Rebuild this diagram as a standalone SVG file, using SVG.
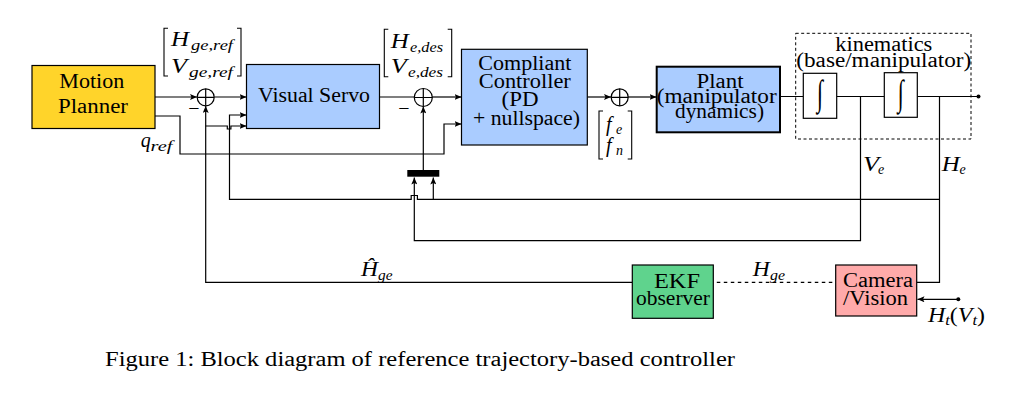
<svg xmlns="http://www.w3.org/2000/svg" width="1015" height="400" viewBox="0 0 1015 400">
<style>
  .box{stroke:#000;stroke-width:1.2}
  .t{font-family:"Liberation Serif","DejaVu Serif",serif;font-size:20px;fill:#000}
  .m{font-family:"Liberation Serif","DejaVu Serif",serif;font-size:20px;font-style:italic;fill:#000}
  .s{font-family:"Liberation Serif","DejaVu Serif",serif;font-size:14px;font-style:italic;fill:#000}
  .c{text-anchor:middle}
  .w{fill:none;stroke:#000;stroke-width:1.2}
  .br{fill:none;stroke:#000;stroke-width:1.1}
</style>
<defs>
  <marker id="a" markerUnits="userSpaceOnUse" markerWidth="8" markerHeight="6" refX="7" refY="3" orient="auto">
    <path d="M0,0 L7,3 L0,6 L1.5,3 z" fill="#000"/>
  </marker>
</defs>
<rect width="1015" height="400" fill="#fff"/>

<g id="connectors">
  <path class="w" d="M155 97 H197" marker-end="url(#a)"/>
  <path class="w" d="M214.5 97 H246.5" marker-end="url(#a)"/>
  <path class="w" d="M379.5 97 H414.5"/>
  <path class="w" d="M432.3 97 H461.5" marker-end="url(#a)"/>
  <path class="w" d="M587.3 97 H611" marker-end="url(#a)"/>
  <path class="w" d="M628.2 97 H656.5" marker-end="url(#a)"/>
  <path class="w" d="M780 96.5 H803.3 M836.7 96.5 H884.3 M917.3 96.5 H978"/>
  <circle cx="978.5" cy="96.5" r="2" fill="#000"/>
  <path class="w" d="M155 116 H180 V154 H444 V124 H461.5" marker-end="url(#a)"/>
  <path class="w" d="M632.3 282.3 H205.7 V106" marker-end="url(#a)"/>
  <path class="w" d="M205.7 126 H227.3 V129 H230.9 V126 H246.5" marker-end="url(#a)"/>
  <path class="w" d="M939.5 96.5 V282.3 H916.7"/>
  <path class="w" d="M939.5 199.3 H417.4 V195.5 H411.2 V199.3 H229.5 V115 H246.5" marker-end="url(#a)"/>
  <path class="w" d="M433.3 199.3 V177.5" marker-end="url(#a)"/>
  <path class="w" d="M860.5 96.5 V240.7 H414.3 V177.5" marker-end="url(#a)"/>
  <path class="w" d="M423.3 170 V106.5" marker-end="url(#a)"/>
  <path class="w" d="M713.3 282.3 H835.7" stroke-dasharray="3.5 3.5" stroke-dashoffset="-3.5"/>
  <circle cx="958.3" cy="299.3" r="2" fill="#000"/>
  <path class="w" d="M958.3 299.3 H917.5" marker-end="url(#a)"/>
</g>

<g id="motion_planner">
  <rect class="box" x="32" y="65.5" width="123" height="63" fill="#FFD42A"/>
  <text class="t c" x="91.8" y="88.3" textLength="65" lengthAdjust="spacingAndGlyphs">Motion</text>
  <text class="t c" x="93" y="113.3" textLength="70" lengthAdjust="spacingAndGlyphs">Planner</text>
</g>

<g id="sum1">
  <circle class="w" cx="205.7" cy="97.3" r="8.5" fill="#fff"/>
  <path class="w" d="M197.2 97.3 H214.2 M205.7 88.8 V105.8"/>
  <text class="t c" x="194" y="115" font-size="18">−</text>
</g>

<g id="ref_label">
  <path class="br" d="M168 28.3 H164 V76 H168 M237 28.3 H241 V76 H237"/>
  <text class="m" x="171" y="46" textLength="18" lengthAdjust="spacingAndGlyphs">H</text>
  <text class="s" x="191" y="49.5" textLength="42" lengthAdjust="spacingAndGlyphs">ge,ref</text>
  <text class="m" x="171" y="73.3" textLength="16" lengthAdjust="spacingAndGlyphs">V</text>
  <text class="s" x="189" y="76.5" textLength="44" lengthAdjust="spacingAndGlyphs">ge,ref</text>
</g>

<g id="visual_servo">
  <rect class="box" x="246.5" y="64.5" width="133" height="64" fill="#AACCFF"/>
  <text class="t c" x="314" y="101.7" textLength="112" lengthAdjust="spacingAndGlyphs">Visual Servo</text>
</g>

<g id="des_label">
  <path class="br" d="M388.3 29.3 H384.3 V76.7 H388.3 M447.7 29.3 H451.7 V76.7 H447.7"/>
  <text class="m" x="390.7" y="48.3" textLength="18" lengthAdjust="spacingAndGlyphs">H</text>
  <text class="s" x="410" y="51.5" textLength="33" lengthAdjust="spacingAndGlyphs">e,des</text>
  <text class="m" x="390.7" y="73.3" textLength="16" lengthAdjust="spacingAndGlyphs">V</text>
  <text class="s" x="408" y="76.5" textLength="35" lengthAdjust="spacingAndGlyphs">e,des</text>
</g>

<g id="sum2">
  <circle class="w" cx="423.3" cy="97.5" r="9" fill="#fff"/>
  <path class="w" d="M414.3 97.5 H432.3 M423.3 88.5 V106.5"/>
  <text class="t c" x="404" y="114.5" font-size="18">−</text>
</g>

<g id="bar">
  <rect x="407.3" y="170" width="32" height="6.7" fill="#000"/>
</g>

<g id="compliant_controller">
  <rect class="box" x="461.5" y="49.3" width="125.8" height="95.7" fill="#AACCFF"/>
  <text class="t c" x="524.8" y="70" textLength="93" lengthAdjust="spacingAndGlyphs">Compliant</text>
  <text class="t c" x="524.8" y="87.5" textLength="92" lengthAdjust="spacingAndGlyphs">Controller</text>
  <text class="t c" x="520" y="105.5" textLength="37" lengthAdjust="spacingAndGlyphs">(PD</text>
  <text class="t c" x="526.5" y="124.5" textLength="107" lengthAdjust="spacingAndGlyphs">+ nullspace)</text>
</g>

<g id="sum3">
  <circle class="w" cx="619.7" cy="97.3" r="8.5" fill="#fff"/>
  <path class="w" d="M611.2 97.3 H628.2 M619.7 88.8 V105.8"/>
</g>

<g id="f_label">
  <path class="br" d="M603 111 H599 V159 H603 M627.7 111 H631.7 V159 H627.7"/>
  <text class="m" x="606" y="131">f</text>
  <text class="s" x="616" y="134">e</text>
  <text class="m" x="606" y="151.5">f</text>
  <text class="s" x="616" y="154.5">n</text>
</g>

<g id="plant">
  <rect x="656.7" y="66.7" width="123.3" height="65.6" fill="#AACCFF" stroke="#000" stroke-width="2"/>
  <text class="t c" x="720" y="87.5" font-size="19" textLength="47" lengthAdjust="spacingAndGlyphs">Plant</text>
  <text class="t c" x="716.7" y="103" font-size="19" textLength="120" lengthAdjust="spacingAndGlyphs">(manipulator</text>
  <text class="t c" x="719.5" y="117.5" font-size="19" textLength="89" lengthAdjust="spacingAndGlyphs">dynamics)</text>
</g>

<g id="kinematics">
  <rect x="795.7" y="33.3" width="175.3" height="105.7" fill="none" stroke="#000" stroke-width="1" stroke-dasharray="3 2.5"/>
  <text class="t c" x="883.8" y="51" font-size="19" textLength="97" lengthAdjust="spacingAndGlyphs">kinematics</text>
  <text class="t c" x="883.8" y="66.7" font-size="19" textLength="175" lengthAdjust="spacingAndGlyphs">(base/manipulator)</text>
</g>

<g id="integrator1">
  <rect class="box" x="803.3" y="73.3" width="33.4" height="45" fill="#fff"/>
  <text class="m c" transform="translate(820 96) scale(1.1 1.8)" x="0" y="5" font-size="18">∫</text>
</g>

<g id="integrator2">
  <rect class="box" x="884.3" y="72.7" width="33" height="44.6" fill="#fff"/>
  <text class="m c" transform="translate(900.8 95.5) scale(1.1 1.8)" x="0" y="5" font-size="18">∫</text>
</g>

<g id="ve_label">
  <text class="m" x="863" y="170.7" textLength="16" lengthAdjust="spacingAndGlyphs">V</text>
  <text class="s" x="878" y="174">e</text>
</g>
<g id="he_label">
  <text class="m" x="941.7" y="170.7" textLength="18" lengthAdjust="spacingAndGlyphs">H</text>
  <text class="s" x="959.5" y="174">e</text>
</g>
<g id="qref_label">
  <text class="m" x="140.7" y="146.5">q</text>
  <text class="s" x="150.5" y="150.5" textLength="22" lengthAdjust="spacingAndGlyphs">ref</text>
</g>
<g id="hhat_label">
  <text class="m" x="361" y="276" textLength="17" lengthAdjust="spacingAndGlyphs">Ĥ</text>
  <text class="s" x="378" y="279.5" textLength="14.5" lengthAdjust="spacingAndGlyphs">ge</text>
</g>

<g id="ekf">
  <rect class="box" x="632.3" y="265" width="81" height="53.3" fill="#5FD38D"/>
  <text class="t c" x="677" y="288.3" textLength="46" lengthAdjust="spacingAndGlyphs">EKF</text>
  <text class="t c" x="673" y="305" textLength="74" lengthAdjust="spacingAndGlyphs">observer</text>
</g>

<g id="hge_label">
  <text class="m" x="752.7" y="276" textLength="17" lengthAdjust="spacingAndGlyphs">H</text>
  <text class="s" x="770" y="279.5" textLength="15" lengthAdjust="spacingAndGlyphs">ge</text>
</g>

<g id="camera">
  <rect class="box" x="835.7" y="265" width="81" height="51" fill="#FFAAAA"/>
  <text class="t c" x="878" y="286.7" textLength="70" lengthAdjust="spacingAndGlyphs">Camera</text>
  <text class="t c" x="875.5" y="305" textLength="65" lengthAdjust="spacingAndGlyphs">/Vision</text>
</g>

<g id="ht_label">
  <text class="m" x="928" y="321.7" textLength="57" lengthAdjust="spacingAndGlyphs">H<tspan class="s" dy="3">t</tspan><tspan font-style="normal" dy="-3">(</tspan>V<tspan class="s" dy="3">t</tspan><tspan font-style="normal" dy="-3">)</tspan></text>
</g>

<text class="t" x="105" y="366" textLength="630" lengthAdjust="spacingAndGlyphs">Figure 1: Block diagram of reference trajectory-based controller</text>
</svg>
